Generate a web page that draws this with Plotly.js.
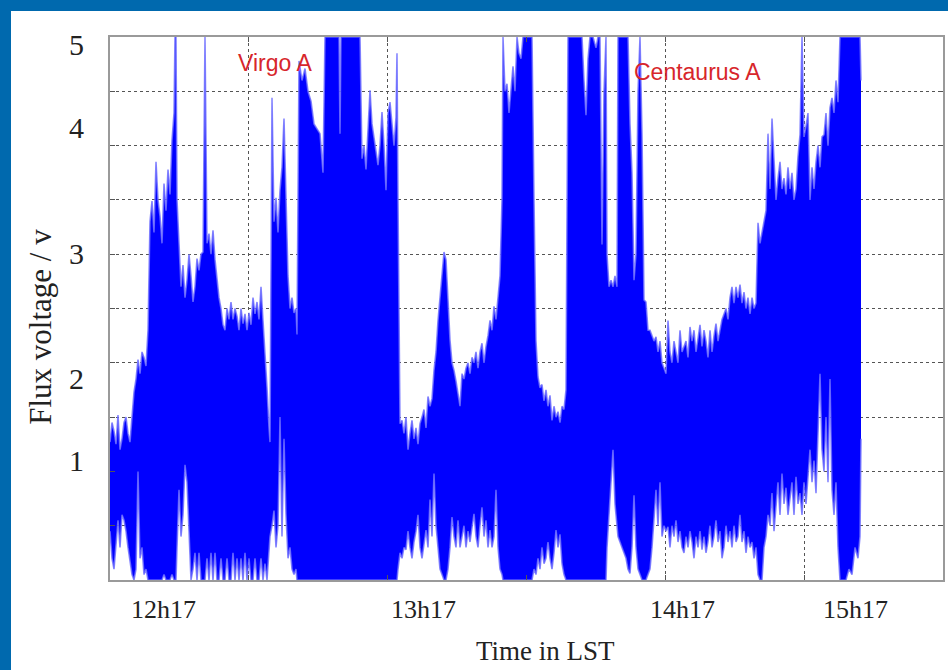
<!DOCTYPE html>
<html>
<head>
<meta charset="utf-8">
<script src="https://cdn.plot.ly/plotly-3.0.1.min.js"></script>
<style>
  html, body { margin: 0; padding: 0; width: 948px; height: 670px; background: #ffffff; overflow: hidden; }
  #bandTop { position: absolute; left: 0; top: 0; width: 948px; height: 11px; background: #0069ae; }
  #bandLeft { position: absolute; left: 0; top: 0; width: 11px; height: 670px; background: #0069ae; }
  #plot { position: absolute; left: 11px; top: 11px; width: 937px; height: 659px; background: #ffffff; }
</style>
</head>
<body>
<div id="bandTop"></div>
<div id="bandLeft"></div>
<div id="plot"></div>
<script>
// Time samples (arbitrary time index along the LST axis)
const t = [
  0,2,4,6,8,10,12,14,16,18,20,22,24,26,28,30,32,34,36,38,40,42,44,46,48,50,52,54,56,58,60,62,64,
  65,66,67,69,71,73,75,77,79,81,83,85,87,89,91,93,95,97,99,101,103,105,107,109,111,113,115,117,119,121,123,125,127,129,131,133,135,137,139,141,143,145,147,149,151,153,155,157,159,
  160,162,164,166,168,170,172,174,176,178,180,182,184,186,187,189,192,195,198,201,204,207,210,213,215,220,225,229,230,231,235,240,245,250,252,254,256,258,260,262,264,266,268,270,272,274,276,278,280,282,284,286,287,
  288,289,290,292,294,296,298,300,302,304,306,308,310,312,314,316,318,320,322,324,326,328,330,332,334,336,338,340,342,344,346,348,350,352,354,356,358,360,362,364,366,368,370,372,374,376,378,380,382,384,386,388,390,392,
  393,395,397,399,401,403,405,407,409,411,413,416,419,422,424,426,428,430,432,434,436,438,440,442,444,446,448,450,452,454,456,457,458,462,466,470,472,474,476,478,480,483,486,488,490,492,494,496,497,499,501,503,505,507,
  508,512,516,518,520,522,524,526,528,530,532,534,536,538,540,542,544,546,548,550,552,554,556,558,560,
  562,564,566,568,570,572,574,576,578,580,582,584,586,588,590,592,594,596,598,600,602,604,606,608,610,612,614,616,618,620,622,624,626,628,630,632,634,636,638,640,642,644,646,648,650,652,654,656,658,660,
  662,664,666,668,670,672,674,676,678,680,682,684,686,688,690,692,694,696,698,700,702,704,706,708,710,712,714,716,718,720,722,724,726,728,730,733,736,739,742,745,748,750,751
];

// Upper envelope of the flux voltage signal (V)
const fluxHigh = [
  1.27,1.45,1.37,1.25,1.52,1.2,1.3,1.45,1.5,1.35,1.27,1.55,1.73,1.85,2.03,1.9,2.1,2.05,1.97,2.3,3.3,3.49,3.2,3.85,3.5,3.35,3.1,3.65,3.4,3.78,3.55,4.05,4.3,
  5,5,3.5,3.09,2.7,2.9,2.6,2.76,3.0,2.8,2.56,2.7,2.96,2.85,3.0,3.02,5,3.1,3.19,3.0,3.22,2.95,2.76,2.6,2.5,2.35,2.3,2.5,2.4,2.56,2.4,2.5,2.43,2.3,2.5,2.36,2.45,2.3,2.46,2.35,2.6,2.45,2.56,2.4,2.7,2.4,2.16,1.77,1.4,
  1.27,4.44,3.3,3.52,3.2,3.59,3.8,4.25,3.49,2.8,2.5,2.6,2.46,2.5,2.26,4.78,4.6,4.71,4.5,4.41,4.2,4.15,4.11,3.75,5,5,5,5,4.11,5,5,5,5,5,3.88,4.0,3.78,4.1,4.51,4.2,4.08,3.95,3.82,4.0,4.31,4.0,3.59,4.3,4.4,4.2,4.0,4.26,4.85,
  3.5,2.6,1.44,1.47,1.35,1.5,1.2,1.35,1.47,1.3,1.4,1.25,1.44,1.5,1.57,1.4,1.69,1.6,1.67,1.93,2.1,2.39,2.6,2.85,3.02,2.95,2.53,2.21,2.0,1.93,1.83,1.72,1.6,1.9,1.85,1.95,2.0,1.9,2.05,2.0,2.1,1.95,2.1,2.18,2.0,2.15,2.25,2.39,2.3,2.52,2.4,2.6,2.8,3.5,
  5,4.5,4.57,4.3,4.5,4.73,4.5,5,4.85,4.8,5,5,5,5,3.5,2.2,1.87,1.77,1.8,1.65,1.75,1.6,1.7,1.47,1.6,1.5,1.55,1.45,1.6,1.57,1.75,3.0,5,5,5,5,5,4.6,4.28,4.8,5,5,4.9,5,5,3.09,4.5,5,3.0,2.7,2.76,2.7,2.8,2.7,
  5,5,5,5,4.2,3.75,2.76,3.0,4.5,5,4.11,2.58,2.56,2.3,2.3,2.24,2.2,2.24,2.1,2.2,2.0,1.95,1.9,2.39,2.1,
  2.0,2.2,2.1,2.0,2.3,2.1,2.15,2.2,2.05,2.33,2.2,2.3,2.1,2.25,2.35,2.15,2.3,2.2,2.05,2.3,2.1,2.25,2.36,2.2,2.3,2.4,2.45,2.5,2.4,2.6,2.7,2.55,2.7,2.6,2.72,2.55,2.65,2.5,2.6,2.45,2.6,2.5,2.55,3.29,3.1,3.2,3.3,3.4,4.11,3.6,
  4.25,3.8,3.5,3.7,3.85,3.6,3.7,3.55,3.8,3.6,3.75,3.5,3.6,3.9,4.1,5.0,4.08,4.18,4.3,3.5,3.8,3.6,3.85,4.0,3.8,4.08,4.1,4.3,4.0,4.35,4.44,4.3,4.6,4.4,5,5,5,5,5,5,5,5,4.6
];

// Lower envelope of the flux voltage signal (V)
const fluxLow = [
  0.45,0.2,0.1,0.35,0.55,0.3,0.6,0.55,0.45,0.3,0.15,0.05,0,0.1,1.0,0.2,0.3,0.05,0.1,0,0,0,0,0,0,0,0,0.05,0,0,0,0.05,0,
  0,0,0.3,0.83,0.4,0.6,1.06,0.9,0.45,0,0.1,0.25,0,0.25,0,0,0,0.2,0,0.25,0,0.25,0,0,0.2,0,0,0.2,0,0,0.25,0,0.2,0,0.2,0,0.25,0,0.2,0,0,0.2,0,0,0.2,0,0.15,0,0.3,
  0.4,0.5,0.64,0.3,0.5,1.5,0.4,1.3,0.6,0.2,0.3,0.1,0.05,0.1,0,0,0,0,0,0,0,0,0,0,0,0,0,0,0,0,0,0,0,0,0,0,0,0,0,0,0,0,0,0,0,0,0,0,0,0,0,0,0,
  0.1,0.2,0.25,0.2,0.3,0.28,0.45,0.3,0.2,0.35,0.45,0.6,0.3,0.2,0.35,0.46,0.3,0.74,0.4,0.98,0.5,0.3,0.1,0.05,0,0,0.1,0.3,0.58,0.4,0.3,0.55,0.3,0.4,0.5,0.3,0.45,0.35,0.5,0.61,0.4,0.3,0.5,0.67,0.4,0.55,0.3,0.46,0.3,0.4,0.83,0.3,0.1,0.05,
  0,0,0,0,0,0,0,0,0,0,0,0,0,0,0.1,0.05,0.2,0.1,0.3,0.15,0.2,0.35,0.2,0.1,0.25,0.46,0.3,0.42,0.15,0.05,0,0,0,0,0,0,0,0,0,0,0,0,0,0,0,0,0,0,0.3,0.6,0.8,1.2,0.7,0.5,
  0.4,0.3,0.2,0.1,0.06,0.3,0.78,0.3,0.1,0.05,0,0,0,0.05,0.1,0.3,0.6,0.83,0.5,0.9,0.4,0.5,0.45,0.49,0.3,
  0.5,0.4,0.55,0.35,0.45,0.3,0.25,0.4,0.3,0.45,0.35,0.2,0.4,0.3,0.45,0.28,0.4,0.25,0.35,0.5,0.3,0.4,0.55,0.35,0.45,0.2,0.3,0.5,0.35,0.45,0.3,0.5,0.35,0.4,0.6,0.35,0.45,0.25,0.4,0.3,0.35,0.2,0.3,0.05,0.0,0.0,0.3,0.4,0.6,0.5,
  0.8,0.45,0.7,0.9,0.6,0.98,0.7,0.85,0.6,0.75,0.9,0.6,0.95,0.7,0.8,0.6,0.9,0.7,1.0,1.2,0.9,1.1,0.8,1.3,1.9,1.2,1.0,1.5,0.9,1.85,0.83,0.6,0.9,0.3,0.0,0,0,0.1,0.05,0.3,0.2,0.4,1.3
];

// Tick labels as printed on the figure (and where they sit)
const xTickText = ["12h17", "13h17", "14h17", "15h17"];
const xTickPos  = [53, 313, 572, 745];
const yTickText = ["5", "4", "3", "2", "1", "0"];
const yTickPos  = [4.93, 4.17, 3.01, 1.86, 1.10, -0.05];

// Source labels
const sourceText = ["Virgo A", "Centaurus A"];
const sourceT    = [165, 587];
const sourceV    = [4.76, 4.68];

const xMax = 833;
const serif = "Liberation Serif, Times New Roman, serif";

const edge = { color: "rgba(110,110,255,0.8)", width: 1.6 };

const traces = [
  {
    x: t, y: fluxLow, type: "scatter", mode: "lines",
    line: edge, hoverinfo: "skip", showlegend: false
  },
  {
    x: t, y: fluxHigh, type: "scatter", mode: "lines",
    fill: "tonexty", fillcolor: "#0000ff",
    line: edge, hoverinfo: "skip", showlegend: false
  }
];

const annotations = [];
xTickText.forEach((s, i) => annotations.push({
  text: s, x: xTickPos[i], xref: "x", y: -0.055, yref: "paper",
  xanchor: "center", yanchor: "middle", showarrow: false,
  font: { family: serif, size: 26, color: "#222" }
}));
yTickText.forEach((s, i) => annotations.push({
  text: s, x: -0.04, xref: "paper", y: yTickPos[i], yref: "y",
  xanchor: "center", yanchor: "middle", showarrow: false,
  font: { family: serif, size: 30, color: "#222" }
}));
sourceText.forEach((s, i) => annotations.push({
  text: s, x: sourceT[i], xref: "x", y: sourceV[i], yref: "y",
  xanchor: "center", yanchor: "middle", showarrow: false,
  font: { family: "Liberation Sans, Arial, sans-serif", size: 23, color: "#d7262b" }
}));
annotations.push({
  text: "Time in LST", x: 435, xref: "x", y: -0.131, yref: "paper",
  xanchor: "center", yanchor: "middle", showarrow: false,
  font: { family: serif, size: 27, color: "#222" }
});
annotations.push({
  text: "Flux voltage / v", x: -0.083, xref: "paper", y: 2.33, yref: "y",
  xanchor: "center", yanchor: "middle", showarrow: false, textangle: -90,
  font: { family: serif, size: 31, color: "#222" }
});

const axisCommon = {
  showgrid: true, gridcolor: "#555", griddash: "dot", gridwidth: 1,
  showticklabels: false, ticks: "inside", ticklen: 5, tickcolor: "#555",
  showline: true, linecolor: "#9a9a9a", linewidth: 2, mirror: "ticks",
  zeroline: false, fixedrange: true
};

const layout = {
  width: 937, height: 659,
  margin: { l: 99, r: 5, t: 26, b: 90, pad: 0 },
  paper_bgcolor: "#ffffff", plot_bgcolor: "#ffffff",
  showlegend: false,
  xaxis: Object.assign({}, axisCommon, { range: [0, xMax], tick0: 0, dtick: xMax / 6 }),
  yaxis: Object.assign({}, axisCommon, { range: [0, 5], tick0: 0, dtick: 0.5 }),
  annotations: annotations
};

Plotly.newPlot("plot", traces, layout, { staticPlot: true, displayModeBar: false });
</script>
</body>
</html>
